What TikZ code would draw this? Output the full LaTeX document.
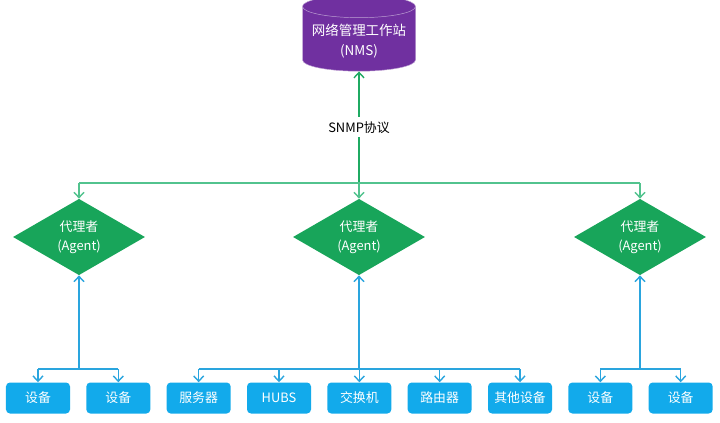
\documentclass[tikz,border=0pt]{standalone}
\usepackage{fontspec}
\setmainfont{Noto Sans CJK SC}
\usetikzlibrary{arrows.meta,positioning,shapes.geometric}
\definecolor{nmspurple}{HTML}{7030A0}
\definecolor{agentgreen}{HTML}{18A55A}
\definecolor{trunkgreen}{HTML}{1FAA62}
\definecolor{linkgreen}{HTML}{52C38E}
\definecolor{devblue}{HTML}{12AAEB}
\definecolor{linkblue}{HTML}{2AA5DE}

\begin{document}
\begin{tikzpicture}[x=0.03cm,y=-0.03cm,>={Straight Barb[length=1.6mm,width=3mm]}]
\tikzstyle{station}=[cylinder,shape border rotate=90,aspect=0.22,draw=nmspurple!45!white,fill=nmspurple,text=white,minimum width=3.39cm,minimum height=2.28cm,align=center,font=\fontsize{11.5}{17}\selectfont]
\tikzstyle{agent}=[diamond,fill=agentgreen,text=white,minimum width=3.96cm,minimum height=1.65cm,inner sep=0pt,align=center,font=\fontsize{11}{16}\selectfont]
\tikzstyle{device}=[rectangle,rounded corners=0.12cm,fill=devblue,text=white,minimum width=1.92cm,minimum height=0.93cm,font=\fontsize{11}{13}\selectfont]
\tikzstyle{greenline}=[line width=1.2pt,linkgreen]
\tikzstyle{blueline}=[line width=1.2pt,linkblue]
\useasboundingbox (0,0) rectangle (720,423);

% manager and agents
\node [station] at (359,41) (nms) {网络管理工作站\\(NMS)};
\node [agent] at (79,237) (agentL) {代理者\\(Agent)};
\node [agent] at (359,237) (agentM) {代理者\\(Agent)};
\node [agent] at (640,237) (agentR) {代理者\\(Agent)};

% devices
\begin{scope}[node distance=2.41cm]
\node [device] at (38,398) (dev1) {设备};
\node [device,right of=dev1] (dev2) {设备};
\node [device,right of=dev2] (server) {服务器};
\node [device,right of=server] (hubs) {HUBS};
\node [device,right of=hubs] (switch) {交换机};
\node [device,right of=switch] (router) {路由器};
\node [device,right of=router] (other) {其他设备};
\node [device,right of=other] (dev3) {设备};
\node [device,right of=dev3] (dev4) {设备};
\end{scope}

\coordinate (top) at (359,183);
\coordinate (busL) at (79,369);
\coordinate (busM) at (359,369);
\coordinate (busR) at (640,369);

% snmp links
\draw [greenline,trunkgreen,->] (top) -- node[fill=white,text=black,font=\fontsize{11}{13}\selectfont] (snmp) {SNMP协议} (nms);
\draw [greenline] (top -| agentL) -- (top -| agentR);
\draw [greenline,->] (top -| agentL) -- (agentL);
\draw [greenline,->] (top) -- (agentM);
\draw [greenline,->] (top -| agentR) -- (agentR);

% device links
\draw [blueline,->] (busL) -- (agentL);
\draw [blueline] (busL -| dev1) -- (busL -| dev2);
\draw [blueline,->] (busL -| dev1) -- (dev1);
\draw [blueline,->] (busL -| dev2) -- (dev2);
\draw [blueline,->] (busM) -- (agentM);
\draw [blueline] (busM -| server) -- (busM -| other);
\foreach \d in {server,hubs,switch,router,other}
  \draw [blueline,->] (busM -| \d) -- (\d);
\draw [blueline,->] (busR) -- (agentR);
\draw [blueline] (busR -| dev3) -- (busR -| dev4);
\draw [blueline,->] (busR -| dev3) -- (dev3);
\draw [blueline,->] (busR -| dev4) -- (dev4);
\end{tikzpicture}
\end{document}
